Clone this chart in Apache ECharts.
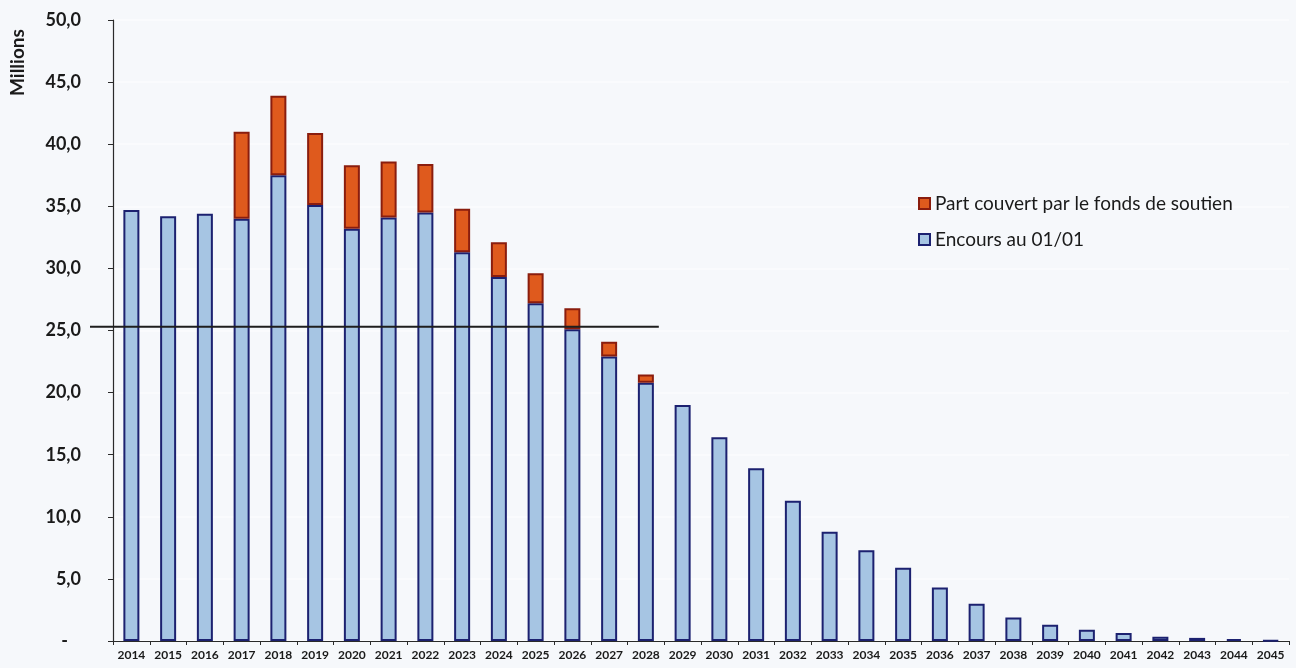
<!DOCTYPE html>
<html>
<head>
<meta charset="utf-8">
<style>
  html, body { margin: 0; padding: 0; background: #f6f8fb; }
  #chart { width: 1296px; height: 668px; }
</style>
<script src="https://cdn.jsdelivr.net/npm/echarts@6/dist/echarts.min.js"></script>
</head>
<body>
<div id="chart"></div>
<script>
// Years of the schedule
const years = ['2014','2015','2016','2017','2018','2019','2020','2021','2022','2023','2024',
  '2025','2026','2027','2028','2029','2030','2031','2032','2033','2034','2035','2036','2037',
  '2038','2039','2040','2041','2042','2043','2044','2045'];

// Outstanding debt on 1 January (millions)
const encours = [34.7, 34.2, 34.4, 34.0, 37.5, 35.1, 33.2, 34.1, 34.5, 31.3, 29.3,
  27.2, 25.1, 22.9, 20.8, 19.0, 16.4, 13.9, 11.3, 8.8, 7.3, 5.9, 4.3, 3.0,
  1.9, 1.3, 0.9, 0.65, 0.35, 0.25, 0.15, 0.05];

// Share covered by the support fund (millions), stacked on top
const partFonds = [0, 0, 0, 7.0, 6.4, 5.8, 5.1, 4.5, 3.9, 3.5, 2.8,
  2.4, 1.7, 1.2, 0.65, 0, 0, 0, 0, 0, 0, 0, 0, 0,
  0, 0, 0, 0, 0, 0, 0, 0];

// Reference level line (millions) and its extent along the year index scale
const seuil = 25.3;
const seuilDebut = -1.13;
const seuilFin = 14.35;

const font = 'Lato, "Open Sans", "Noto Sans", sans-serif';

const chart = echarts.init(document.getElementById('chart'));
chart.setOption({
  backgroundColor: '#f6f8fb',
  animation: false,
  textStyle: { fontFamily: font },
  grid: [
    { left: 113, right: 7, top: 20, bottom: 27, containLabel: false },
    // overlay grid, starting a little left of the axis, for the level line
    { left: 90, right: 7, top: 20, bottom: 27, containLabel: false }
  ],
  legend: {
    orient: 'vertical',
    left: 913,
    top: 189,
    itemWidth: 11,
    itemHeight: 11,
    itemGap: 17,
    icon: 'rect',
    textStyle: { fontSize: 19, color: '#1a1a1a', fontFamily: font },
    data: ['Part couvert par le fonds de soutien', 'Encours au 01/01']
  },
  graphic: [{
    type: 'text',
    x: 8,
    y: 96,
    rotation: Math.PI / 2,
    style: {
      text: 'Millions',
      font: 'bold 19px ' + font,
      fill: '#1a1a1a'
    }
  }],
  xAxis: [{
    type: 'category',
    gridIndex: 0,
    data: years,
    boundaryGap: true,
    axisLine: { lineStyle: { color: '#2a2a2a', width: 1.2 } },
    axisTick: { show: true, interval: 0, length: 4, lineStyle: { color: '#2a2a2a' } },
    axisLabel: { interval: 0, fontSize: 12, fontWeight: 'bold', color: '#1a1a1a', margin: 8 },
    splitLine: { show: false }
  }, {
    type: 'value',
    gridIndex: 1,
    min: seuilDebut,
    max: years.length - 0.5,
    show: false
  }],
  yAxis: [{
    type: 'value',
    gridIndex: 0,
    min: 0,
    max: 50,
    interval: 5,
    axisLine: { show: true, onZero: false, lineStyle: { color: '#2a2a2a', width: 1.2 } },
    axisTick: { show: true, length: 5, lineStyle: { color: '#2a2a2a' } },
    axisLabel: {
      fontSize: 18,
      fontWeight: 'bold',
      color: '#1a1a1a',
      margin: 32,
      formatter: v => v === 0 ? '-   ' : v.toFixed(1).replace('.', ',')
    },
    splitLine: { show: true, lineStyle: { color: '#fbfcfe', width: 1.5 } }
  }, {
    type: 'value',
    gridIndex: 1,
    min: 0,
    max: 50,
    show: false
  }],
  series: [{
    name: 'Encours au 01/01',
    type: 'bar',
    stack: 'total',
    barWidth: 16,
    data: encours,
    itemStyle: { color: '#a6c5e3', borderColor: '#1c2170', borderWidth: 2 }
  }, {
    name: 'Part couvert par le fonds de soutien',
    type: 'bar',
    stack: 'total',
    barWidth: 16,
    data: partFonds.map(v => v === 0 ? '-' : v),
    itemStyle: { color: '#df5a1d', borderColor: '#8a1d0e', borderWidth: 2 }
  }, {
    name: 'Seuil',
    type: 'line',
    xAxisIndex: 1,
    yAxisIndex: 1,
    symbol: 'none',
    silent: true,
    data: [[seuilDebut, seuil], [seuilFin, seuil]],
    lineStyle: { color: '#1e1e1e', width: 2 },
    z: 5
  }]
});
</script>
</body>
</html>
